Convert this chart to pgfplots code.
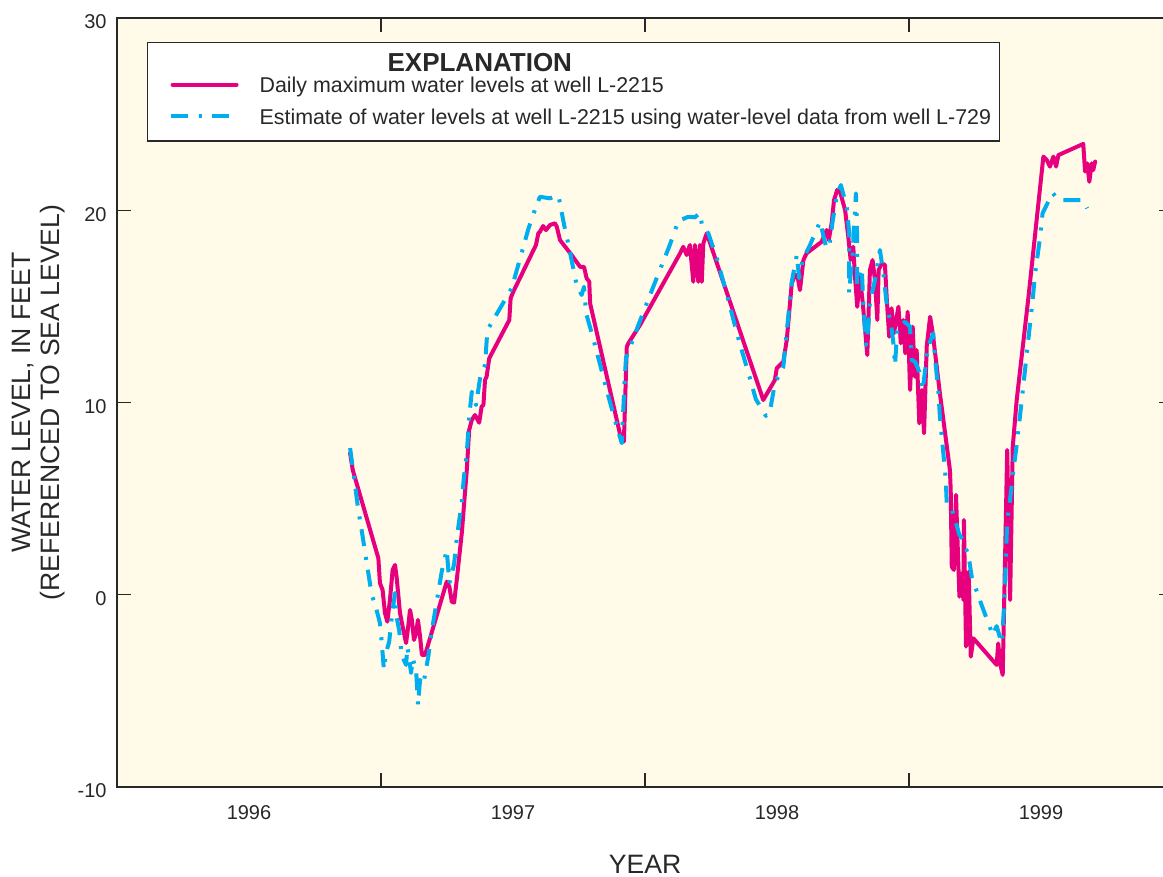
\documentclass[border=0pt]{standalone}
\usepackage{fontspec}
\setmainfont{Liberation Sans}
\usepackage{pgfplots}
\pgfplotsset{compat=1.18}
\definecolor{bgcream}{RGB}{255,251,232}
\definecolor{wellpink}{RGB}{230,0,126}
\definecolor{wellblue}{RGB}{0,174,239}
\definecolor{axisgray}{RGB}{40,40,40}

\begin{document}
\begin{tikzpicture}
\begin{axis}[
  at={(0pt,0pt)}, anchor=south west,
  scale only axis, width=528pt, height=384.5pt,
  xmin=1996, xmax=2000, ymin=-10, ymax=30,
  axis background/.style={fill=bgcream},
  axis line style={axisgray, line width=0.75pt},
  tick align=inside, major tick length=7pt,
  tick style={axisgray, line width=0.6pt},
  xtick={1997,1998,1999}, xticklabels={},
  extra x ticks={1996.5,1997.5,1998.5,1999.5},
  extra x tick labels={1996,1997,1998,1999},
  extra x tick style={major tick length=0pt,
    xticklabel style={anchor=center, yshift=-12.75pt}},
  ytick={-10,0,10,20,30}, yticklabels={-10,0,10,20,30},
  yticklabel style={xshift=-1.7pt, yshift=-2pt},
  ticklabel style={font=\fontsize{10}{12}\selectfont, text=axisgray},
  xlabel={YEAR},
  ylabel={WATER LEVEL, IN FEET\\(REFERENCED TO SEA LEVEL)},
  every axis x label/.style={at={(axis description cs:0.5,-0.1005)}, anchor=center,
    font=\fontsize{13.3}{14.5}\selectfont, text=axisgray},
  every axis y label/.style={at={(axis description cs:-0.0739,0.5)}, anchor=center,
    rotate=90, align=center, font=\fontsize{13.3}{14.5}\selectfont, text=axisgray},
  legend style={at={(axis description cs:0.0284,0.9688)}, anchor=north west,
    draw=axisgray, line width=0.6pt, fill=white,
    inner xsep=10.5pt, inner ysep=0pt, row sep=0pt, column sep=9.5pt,
    cells={anchor=base west}, nodes={inner sep=0pt},
    font=\fontsize{10.7}{12}\selectfont, text=axisgray},
]
% title row of the explanation box
\addlegendimage{legend image code/.code={\path[draw=none, fill=none] (0pt,0pt) rectangle (0pt,14.5pt);}}
\addlegendentry{\hspace*{64pt}{\fontsize{13}{15}\selectfont\bfseries EXPLANATION}}

\addplot[color=wellpink, line width=2pt, line join=round, line cap=round,
  legend image code/.code={\draw[wellpink, line width=2pt, line cap=round] (1pt,4pt) -- (33pt,4pt);
    \path[draw=none, fill=none] (0pt,-3pt) rectangle (0pt,9pt);}] coordinates {
(1996.883,7.36) (1996.893,6.49) (1996.990,1.90) (1996.996,0.61) (1997.006,0.25)
(1997.015,-0.95) (1997.024,-1.40) (1997.034,-0.27) (1997.044,1.29) (1997.053,1.55)
(1997.059,0.94) (1997.072,-0.95) (1997.082,-1.66) (1997.095,-2.51) (1997.103,-1.66)
(1997.110,-0.79) (1997.117,-1.31) (1997.125,-2.35) (1997.133,-1.99) (1997.140,-1.31)
(1997.148,-2.18) (1997.155,-3.13) (1997.167,-3.13) (1997.249,0.68) (1997.259,0.42)
(1997.268,-0.36) (1997.277,-0.41) (1997.287,0.77) (1997.306,3.20) (1997.325,6.49)
(1997.334,8.57) (1997.344,9.09) (1997.356,9.35) (1997.372,8.95) (1997.381,9.78)
(1997.388,9.87) (1997.394,11.17) (1997.400,11.34) (1997.410,12.30) (1997.486,14.29)
(1997.491,15.42) (1997.501,15.76) (1997.587,18.19) (1997.596,18.80) (1997.602,18.88)
(1997.614,19.18) (1997.625,18.97) (1997.640,19.23) (1997.659,19.32) (1997.666,19.14)
(1997.678,18.45) (1997.722,17.67) (1997.754,17.06) (1997.769,17.05) (1997.779,16.46)
(1997.789,16.28) (1997.792,15.16) (1997.912,7.96) (1997.920,7.96) (1997.931,12.90)
(1997.937,13.08) (1997.981,14.03) (1998.133,17.76) (1998.145,18.10) (1998.158,17.67)
(1998.170,18.19) (1998.183,16.28) (1998.189,18.19) (1998.202,16.28) (1998.208,18.19)
(1998.215,16.28) (1998.221,18.28) (1998.234,18.80) (1998.448,10.13) (1998.492,11.17)
(1998.499,11.78) (1998.524,12.12) (1998.537,13.25) (1998.556,16.20) (1998.568,16.63)
(1998.577,16.63) (1998.587,15.85) (1998.600,17.41) (1998.612,17.76) (1998.669,18.36)
(1998.688,18.97) (1998.696,18.45) (1998.707,19.32) (1998.716,20.53) (1998.728,21.05)
(1998.739,20.95) (1998.758,20.01) (1998.770,18.62) (1998.779,17.41) (1998.789,18.10)
(1998.795,16.63) (1998.804,14.98) (1998.814,16.54) (1998.825,15.16) (1998.842,12.47)
(1998.852,16.89) (1998.862,17.41) (1998.871,16.37) (1998.880,14.29) (1998.885,16.89)
(1998.897,17.24) (1998.909,17.15) (1998.916,15.33) (1998.925,13.42) (1998.934,14.90)
(1998.943,13.60) (1998.960,14.98) (1998.969,13.08) (1998.978,14.29) (1998.986,12.56)
(1998.995,14.72) (1999.004,10.65) (1999.014,13.94) (1999.022,11.34) (1999.029,12.73)
(1999.039,8.92) (1999.049,10.65) (1999.057,8.40) (1999.067,12.90) (1999.080,14.46)
(1999.090,13.60) (1999.117,10.48) (1999.155,6.49) (1999.158,5.45) (1999.162,1.46)
(1999.170,1.29) (1999.178,5.19) (1999.191,-0.10) (1999.200,1.12) (1999.206,-0.27)
(1999.208,3.89) (1999.216,-2.70) (1999.226,1.20) (1999.234,-3.22) (1999.244,-2.27)
(1999.332,-3.65) (1999.338,-2.53) (1999.345,-3.57) (1999.355,-4.17) (1999.364,1.98)
(1999.372,7.53) (1999.383,-0.27) (1999.393,7.70) (1999.408,10.13) (1999.452,15.42)
(1999.509,22.79) (1999.522,22.61) (1999.534,22.27) (1999.547,22.79) (1999.557,22.27)
(1999.566,22.87) (1999.660,23.45) (1999.667,22.01) (1999.675,22.44) (1999.683,21.48)
(1999.692,22.44) (1999.698,22.09) (1999.705,22.53)
};
\addlegendentry{Daily maximum water levels at well L-2215}

\addplot[color=wellblue, line width=2pt, line join=round, line cap=butt,
  dash pattern=on 8.5pt off 5.5pt on 1.5pt off 5pt,
  legend image code/.code={\draw[wellblue, line width=2pt, line cap=butt,
    dash pattern=on 8.5pt off 5.5pt on 1.5pt off 5pt] (0pt,4pt) -- (34pt,4pt);
    \path[draw=none, fill=none] (0pt,-8.5pt) rectangle (0pt,12.75pt);}] coordinates {
(1996.883,7.63) (1996.914,4.41) (1996.929,3.16) (1996.943,1.91) (1996.965,0.00)
(1996.980,-0.62) (1996.996,-1.47) (1997.003,-2.51) (1997.011,-3.91) (1997.019,-3.03)
(1997.031,-2.44) (1997.041,-1.14) (1997.053,0.09) (1997.059,-1.14) (1997.069,-1.87)
(1997.078,-3.13) (1997.095,-3.65) (1997.100,-2.70) (1997.114,-4.07) (1997.120,-3.31)
(1997.133,-3.91) (1997.140,-5.73) (1997.148,-4.43) (1997.160,-4.69) (1997.179,-3.22)
(1997.192,-1.92) (1997.230,1.20) (1997.249,2.33) (1997.259,0.60) (1997.277,1.60)
(1997.287,2.94) (1997.306,4.84) (1997.314,6.11) (1997.325,7.36) (1997.334,9.26)
(1997.344,10.56) (1997.360,9.87) (1997.378,11.52) (1997.394,11.95) (1997.403,13.77)
(1997.451,14.90) (1997.495,15.94) (1997.533,17.79) (1997.558,19.02) (1997.587,20.18)
(1997.602,20.70) (1997.640,20.62) (1997.672,20.79) (1997.693,19.28) (1997.713,18.02)
(1997.741,16.11) (1997.760,15.59) (1997.769,16.02) (1997.777,14.64) (1997.802,13.42)
(1997.827,12.12) (1997.861,10.34) (1997.886,9.09) (1997.912,7.88) (1997.918,9.70)
(1997.922,10.96) (1997.928,12.30) (1997.975,14.03) (1998.009,15.24) (1998.044,16.46)
(1998.095,18.23) (1998.126,19.44) (1998.164,19.66) (1998.189,19.63) (1998.208,19.87)
(1998.217,19.14) (1998.240,18.80) (1998.272,17.50) (1998.309,15.68) (1998.332,14.46)
(1998.357,13.16) (1998.395,11.38) (1998.420,10.17) (1998.458,9.30) (1998.473,9.52)
(1998.492,11.00) (1998.524,11.86) (1998.533,13.16) (1998.547,15.07) (1998.556,16.28)
(1998.575,17.67) (1998.584,16.46) (1998.597,17.41) (1998.625,18.19) (1998.663,19.40)
(1998.687,18.04) (1998.697,18.04) (1998.711,19.44) (1998.728,20.88) (1998.742,21.31)
(1998.764,20.18) (1998.773,18.92) (1998.773,15.70) (1998.786,17.67) (1998.799,20.88)
(1998.803,18.97) (1998.804,16.11) (1998.821,16.98) (1998.827,15.16) (1998.837,12.99)
(1998.846,13.94) (1998.852,15.24) (1998.871,16.37) (1998.890,17.93) (1998.903,16.72)
(1998.918,14.81) (1998.931,14.20) (1998.941,13.08) (1998.947,11.95) (1998.956,13.86)
(1998.985,14.20) (1999.004,13.94) (1999.010,12.21) (1999.023,12.12) (1999.039,11.60)
(1999.052,10.65) (1999.071,12.82) (1999.092,13.60) (1999.098,12.38) (1999.111,10.65)
(1999.117,9.26) (1999.126,7.96) (1999.139,6.06) (1999.143,4.76) (1999.158,4.67)
(1999.178,3.72) (1999.191,3.11) (1999.206,2.85) (1999.215,2.42) (1999.225,2.07)
(1999.238,0.91) (1999.269,-0.31) (1999.317,-2.09) (1999.332,-1.63) (1999.351,-2.53)
(1999.360,-0.70) (1999.367,1.90) (1999.372,3.80) (1999.385,5.19) (1999.395,6.44)
(1999.408,7.79) (1999.423,9.61) (1999.469,15.42) (1999.477,16.63) (1999.496,18.54)
(1999.506,19.84) (1999.544,20.91) (1999.560,20.62) (1999.585,20.53) (1999.660,20.53)
(1999.675,20.10)
};
\addlegendentry{Estimate of water levels at well L-2215 using water-level data from well L-729\hspace*{-6.5pt}}
\end{axis}
\pgfresetboundingbox
\useasboundingbox (-58.5pt,-45pt) rectangle (523pt,393.5pt);
\end{tikzpicture}
\end{document}
